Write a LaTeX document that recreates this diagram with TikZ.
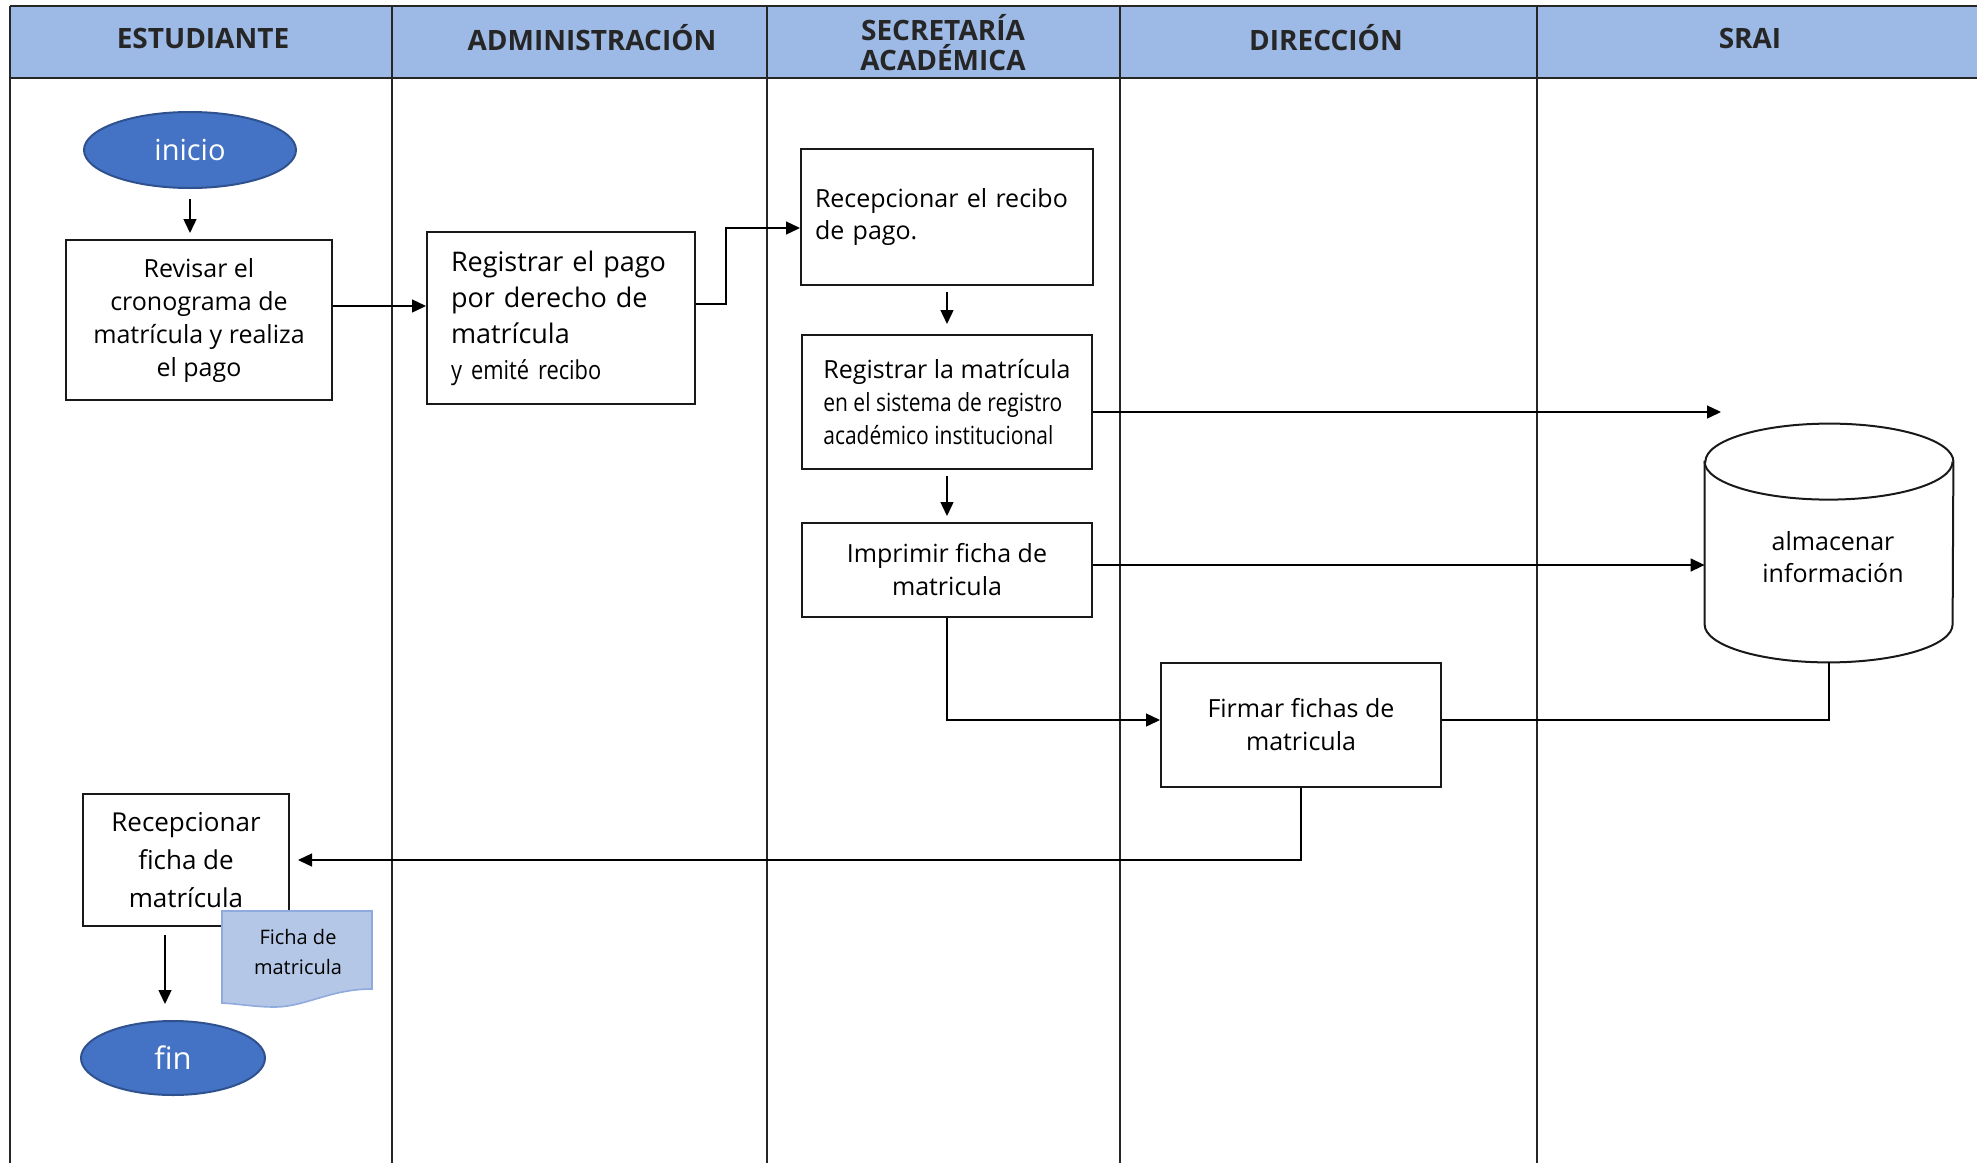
\documentclass[tikz,border=0pt]{standalone}
\usepackage{fontspec}
\setmainfont{Open Sans}
\newfontfamily\narrowfont[FakeStretch=0.84]{Open Sans}
\usetikzlibrary{arrows.meta,shapes.geometric}

\definecolor{headblue}{HTML}{9DB9E5}
\definecolor{termblue}{HTML}{4472C4}
\definecolor{termline}{HTML}{2F528F}
\definecolor{docblue}{HTML}{B4C7E7}
\definecolor{docline}{HTML}{8FAADC}

\begin{document}
\begin{tikzpicture}[x=0.5pt,y=-0.5pt,
    lane/.style={draw=black!85, line width=0.8pt},
    head/.style={font=\fontsize{14}{15}\selectfont\bfseries, align=center, text=black!85},
    proc/.style={draw=black!90, line width=1pt, rectangle, inner sep=4pt,
      font=\fontsize{12.5}{16.5}\selectfont, align=center},
    term/.style={ellipse, draw=termline, fill=termblue, line width=1pt, text=white,
      font=\fontsize{14.5}{15}\selectfont},
    flow/.style={-{Triangle[length=7pt,width=6.5pt]}, line width=0.7pt},
    link/.style={line width=0.7pt}]

    \useasboundingbox (0,0) rectangle (1977,1163);

    % Header band and swimlane borders
    \fill[headblue] (10,6) rectangle (1977,78);
    \draw[lane] (10,6) -- (1977,6);
    \draw[lane] (10,78) -- (1977,78);
    \foreach \x in {10,392,767,1120,1537} {
      \draw[lane] (\x,6) -- (\x,1163);
    }

    % Lane titles
    \node[head] (hest) at (203,38) {ESTUDIANTE};
    \node[head] (hadm) at (592,38) {ADMINISTRACIÓN};
    \node[head] (hsec) at (943,43) {SECRETARÍA\\ACADÉMICA};
    \node[head] (hdir) at (1326,38) {DIRECCIÓN};
    \node[head] (hsrai) at (1750,38) {SRAI};

    % Estudiante
    \node[term, minimum width=106pt, minimum height=38pt] (inicio) at (190,150) {inicio};
    \node[proc, minimum width=133pt, minimum height=80pt] (revisar) at (199,320)
      {Revisar el\\cronograma de\\matrícula y realiza\\el pago};
    \node[proc, minimum width=103pt, minimum height=66pt, font=\fontsize{13}{19}\selectfont] (recf) at (186,860)
      {Recepcionar\\ficha de\\matrícula};
    \node[term, minimum width=92pt, minimum height=37pt, font=\fontsize{15.5}{16}\selectfont] (fin) at (173,1058) {fin};

    % Administracion
    \node[proc, minimum width=134pt, minimum height=86pt, align=left, text width=110pt,
      font=\fontsize{13.5}{18}\selectfont] (regpago) at (561,318)
      {Registrar el pago\\por derecho de\\matrícula\\{\fontsize{13}{17}\narrowfont y emité recibo}};

    % Secretaria academica
    \node[proc, minimum width=146pt, minimum height=68pt, align=left, text width=132pt] (recibo) at (947,217)
      {Recepcionar el recibo\\de pago.};
    \node[proc, minimum width=145pt, minimum height=67pt, align=left] (regmat) at (947,402)
      {Registrar la matrícula\\{\fontsize{12.5}{16.5}\narrowfont en el sistema de registro}\\{\fontsize{12.5}{16.5}\narrowfont académico institucional}};
    \node[proc, minimum width=145pt, minimum height=47pt] (imprimir) at (947,570)
      {Imprimir ficha de\\matricula};

    % Direccion
    \node[proc, minimum width=140pt, minimum height=62pt] (firmar) at (1301,725)
      {Firmar fichas de\\matricula};

    % SRAI: data store
    \node[minimum width=124pt, minimum height=119pt, inner sep=0pt] (db) at (1829,543) {};
    \draw[line width=1pt, black!90]
      ([yshift=-19pt]db.north west) -- ([yshift=19pt]db.south west)
      arc[start angle=180, end angle=360, x radius=62pt, y radius=19pt]
      -- ([yshift=-19pt]db.north east)
      arc[start angle=0, end angle=180, x radius=62pt, y radius=19pt] -- cycle;
    \draw[line width=1pt, black!90] ([yshift=-19pt]db.north west)
      arc[start angle=180, end angle=360, x radius=62pt, y radius=19pt];
    \node[align=center, font=\fontsize{12.5}{16}\selectfont] (dbtxt) at (1833,557) {almacenar\\información};

    % Document attached to the last task
    \draw[fill=docblue, draw=docline, line width=0.8pt]
      (222,911) -- (372,911) -- (372,989)
      .. controls (330,989) and (305,1007) .. (275,1007)
      .. controls (255,1007) and (240,1004) .. (222,1003) -- cycle;
    \node[font=\fontsize{10}{15}\selectfont, align=center] (ficha) at (298,952) {Ficha de\\matricula};

    % Free end of the record arrow
    \coordinate (srai) at (1721,412);

    % Connectors
    \draw[flow, shorten <=5pt, shorten >=3pt] (inicio.south) -- (inicio.south |- revisar.north);
    \draw[flow] ([yshift=7pt]revisar.east) -- ([yshift=7pt]revisar.east -| regpago.west);
    \draw[flow] ([yshift=7pt]regpago.east) -- ++(30,0) |- ([yshift=-5.5pt]recibo.west);
    \draw[flow, shorten <=3pt, shorten >=5pt] (recibo.south) -- (regmat.north);
    \draw[flow] ([yshift=-5pt]regmat.east) -- (srai);
    \draw[flow, shorten <=3pt, shorten >=3pt] (regmat.south) -- (imprimir.north);
    \draw[flow] ([yshift=2.5pt]imprimir.east) -- ([yshift=2.5pt]imprimir.east -| db.west);
    \draw[flow] (imprimir.south) |- ([yshift=2.5pt]firmar.west);
    \draw[link] ([yshift=2.5pt]firmar.east) -| (db.south);
    \draw[flow, shorten >=4pt] (firmar.south) |- (recf.east);
    \draw[flow, shorten <=4pt, shorten >=8pt] ([xshift=-4pt]recf.south -| fin.north) -- ([xshift=-4pt]fin.north);

\end{tikzpicture}
\end{document}
